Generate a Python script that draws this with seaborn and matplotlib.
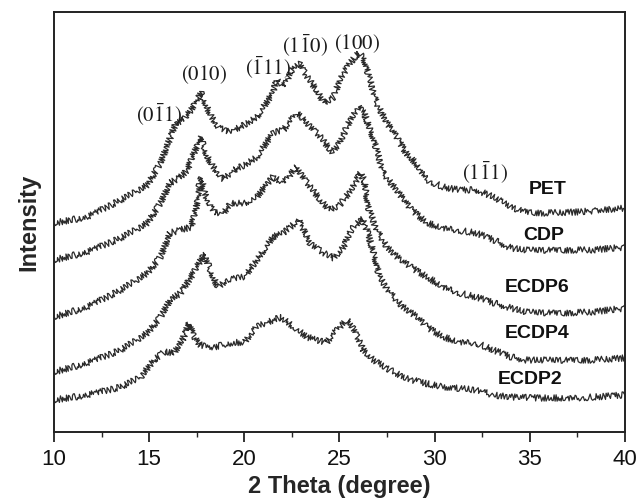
import matplotlib
matplotlib.use('Agg')
import matplotlib.pyplot as plt
import matplotlib.ticker as mticker
import seaborn as sns

sns.set_style('ticks')
plt.rcParams['font.family'] = ['Liberation Sans', 'DejaVu Sans']
plt.rcParams['mathtext.fontset'] = 'stix'

# intensities (arbitrary units, curves already offset)
theta_pet = [10.0, 11.75, 13.5, 14.9, 15.6, 16.0, 16.4, 16.8, 17.2, 17.7, 18.1, 18.6,
             19.1, 19.8, 20.65, 21.5, 21.7, 22.05, 22.6, 22.9, 23.3, 23.8, 24.2, 24.7,
             25.0, 25.55, 26.0, 26.25, 26.6, 26.95, 27.5, 28.0, 28.5, 29.0, 29.6, 30.46,
             31.3, 32.2, 33.1, 34.0, 34.8, 35.7, 37.5, 40.0]
pet = [209, 215, 232, 247, 269, 289, 309, 312, 322, 340, 322, 305,
       300, 305, 315, 339, 352, 345, 365, 369, 355, 342, 329, 335,
       352, 369, 379, 375, 352, 329, 309, 295, 279, 269, 252, 245,
       242, 242, 235, 225, 220, 219, 220, 224]

theta_cdp = [10.0, 11.75, 13.5, 14.9, 15.6, 16.1, 16.65, 17.0, 17.35, 17.7, 18.05, 18.6,
             18.9, 19.45, 20.0, 20.65, 21.5, 22.05, 22.75, 23.3, 24.0, 24.6, 25.0, 25.55,
             26.0, 26.3, 26.8, 27.3, 28.0, 28.7, 29.6, 30.46, 32.2, 33.1, 34.0, 34.8,
             36.6, 38.3, 40.0]
cdp = [172, 180, 194, 209, 229, 249, 255, 262, 279, 295, 275, 259,
       252, 262, 267, 275, 299, 302, 319, 309, 295, 280, 289, 312,
       325, 319, 292, 259, 242, 224, 209, 204, 199, 192, 184, 182,
       182, 182, 185]

theta_ecdp6 = [10.0, 11.75, 13.5, 14.9, 15.6, 16.1, 16.65, 17.2, 17.45, 17.7, 18.05, 18.4,
               18.9, 19.3, 20.0, 20.65, 21.5, 22.05, 22.75, 23.3, 24.0, 24.5, 25.0, 25.6,
               26.1, 26.3, 26.5, 26.95, 27.5, 28.2, 29.0, 29.6, 30.46, 31.3, 32.2, 33.1,
               34.0, 34.8, 36.6, 38.3, 40.0]
ecdp6 = [115, 125, 142, 159, 175, 199, 202, 205, 222, 255, 232, 219,
         219, 229, 229, 235, 255, 249, 265, 249, 232, 222, 227, 242,
         259, 252, 225, 202, 185, 172, 162, 155, 145, 139, 135, 129,
         124, 120, 119, 120, 124]

theta_ecdp4 = [10.0, 11.75, 13.5, 14.9, 15.6, 16.1, 16.65, 17.2, 17.5, 17.9, 18.2, 18.6,
               19.1, 20.0, 20.65, 21.5, 22.05, 22.85, 23.45, 24.15, 24.7, 25.2, 25.6, 26.2,
               26.5, 26.85, 27.1, 27.65, 28.35, 29.0, 29.6, 30.46, 31.3, 32.2, 33.1, 34.0,
               34.8, 36.6, 38.3, 40.0]
ecdp4 = [60, 69, 82, 99, 115, 132, 139, 155, 165, 179, 162, 145,
         152, 155, 172, 195, 199, 212, 189, 179, 174, 185, 202, 214,
         199, 175, 155, 139, 125, 116, 105, 95, 90, 89, 82, 75,
         72, 72, 72, 74]

theta_ecdp2 = [10.0, 11.75, 13.5, 14.55, 15.25, 15.8, 16.3, 16.75, 17.1, 17.35, 17.7, 18.4,
               19.3, 20.0, 20.65, 21.5, 21.95, 22.6, 23.3, 24.3, 24.85, 25.4, 25.7, 26.25,
               26.8, 27.65, 28.5, 29.2, 30.46, 32.2, 33.1, 34.0, 35.7, 37.5, 40.0]
ecdp2 = [32, 37, 45, 55, 72, 80, 79, 92, 109, 95, 87, 85,
         89, 90, 105, 112, 115, 105, 95, 89, 102, 112, 105, 82,
         72, 62, 54, 50, 45, 42, 37, 35, 34, 34, 37]

samples = ['PET', 'CDP', 'ECDP6', 'ECDP4', 'ECDP2']
sample_x = [35.95, 35.75, 35.4, 35.4, 35.0]
sample_y = [242, 197, 144, 99, 52]

peaks = [r'$\mathrm{(0\bar{1}1)}$', r'$\mathrm{(010)}$', r'$\mathrm{(\bar{1}11)}$',
         r'$\mathrm{(1\bar{1}0)}$', r'$\mathrm{(100)}$', r'$\mathrm{(1\bar{1}1)}$']
peak_x = [15.5, 17.9, 21.25, 23.2, 25.9, 32.65]
peak_y = [317, 357, 364, 386, 388, 259]

fig = plt.figure(figsize=(6.39, 5.0), dpi=100)
ax = fig.add_axes([0.0845, 0.136, 0.8935, 0.84])

series = [(theta_pet, pet), (theta_cdp, cdp), (theta_ecdp6, ecdp6),
          (theta_ecdp4, ecdp4), (theta_ecdp2, ecdp2)]
for tx, ty in series:
    sns.lineplot(x=tx, y=ty, ax=ax, color='#2a2a2a', linewidth=0.9, sort=False)
# the diffractograms are noisy: imitate the scatter with a sketch style
for line in ax.get_lines():
    line.set_sketch_params(scale=3.2, length=2.0, randomness=3)

for name, sx, sy in zip(samples, sample_x, sample_y):
    ax.text(sx, sy, name, ha='center', va='center', fontsize=14,
            fontweight='bold', color='#111111')
for lab, px, py in zip(peaks, peak_x, peak_y):
    ax.text(px, py, lab, ha='center', va='center', fontsize=15, color='#1a1a1a')

ax.set_xlim(10, 40)
ax.set_ylim(0, 420)
ax.xaxis.set_major_locator(mticker.MultipleLocator(5))
ax.xaxis.set_minor_locator(mticker.MultipleLocator(2.5))
ax.tick_params(axis='x', which='major', direction='out', length=7, width=1.2,
               labelsize=16, pad=5, colors='#111111')
ax.tick_params(axis='x', which='minor', direction='out', length=3.5, width=1.0)
ax.set_yticks([])
for sp in ax.spines.values():
    sp.set_visible(True)
    sp.set_linewidth(1.4)
    sp.set_color('#222222')

ax.set_xlabel('2 Theta (degree)', fontsize=17, fontweight='bold', labelpad=4)
ax.set_ylabel('Intensity', fontsize=17, fontweight='bold', labelpad=10)

plt.savefig('out.png', dpi=100)
